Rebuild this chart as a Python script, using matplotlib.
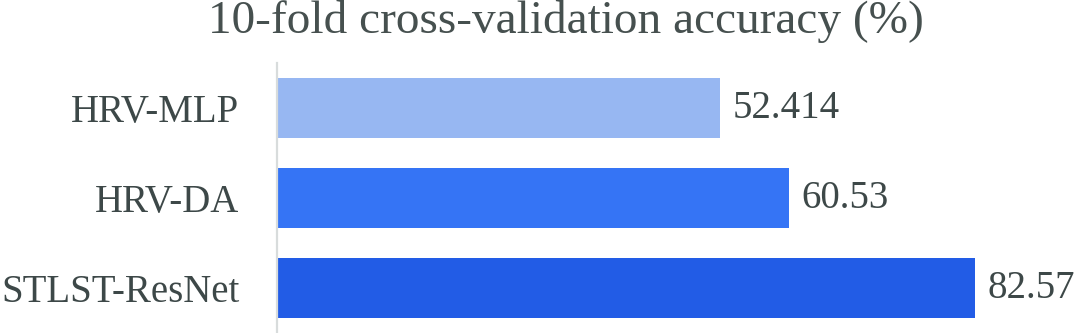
import matplotlib
matplotlib.use("Agg")
import matplotlib.pyplot as plt

models = ["HRV-MLP", "HRV-DA", "STLST-ResNet"]
accuracy = [52.414, 60.53, 82.57]
value_labels = ["52.414", "60.53", "82.57"]
bar_colors = ["#97B7F2", "#3574F5", "#225CE6"]

text_color = "#3D4848"
plt.rcParams["font.family"] = ["Liberation Serif", "DejaVu Serif"]

W, H = 1075, 333
fig = plt.figure(figsize=(W / 100, H / 100), dpi=100)
ax = fig.add_axes([277 / W, 0, 798 / W, 270 / H])

ypos = list(range(len(models)))
ax.barh(ypos, accuracy, height=0.667, color=bar_colors, zorder=2)
ax.set_xlim(0, 94.4)
ax.set_ylim(2.5, -0.5)

for y, v, lab in zip(ypos, accuracy, value_labels):
    ax.annotate(lab, xy=(v, y), xytext=(9, 0), textcoords="offset points",
                va="center", ha="left", fontsize=28, color=text_color)

ax.set_yticks(ypos)
ax.set_yticklabels(models, fontsize=28, color=text_color)
ax.tick_params(axis="y", length=0, pad=27)
ax.set_xticks([])
for side in ["top", "right", "bottom"]:
    ax.spines[side].set_visible(False)
ax.spines["left"].set_color("#D8DCDC")
ax.spines["left"].set_linewidth(1.6)

fig.text(566 / W, 1 - 33 / H, "10-fold cross-validation accuracy (%)",
         ha="center", va="baseline", fontsize=34, color="#46504F")

fig.savefig("out.png", dpi=100)
